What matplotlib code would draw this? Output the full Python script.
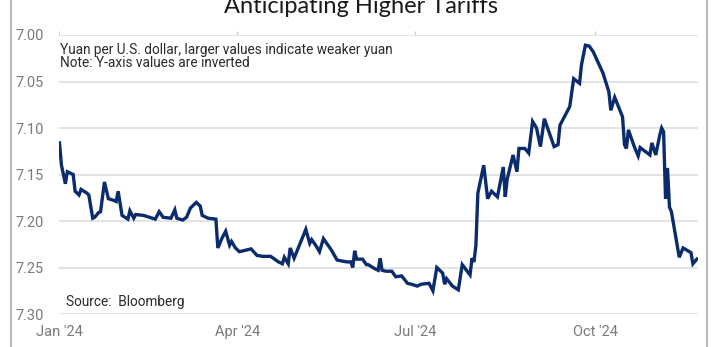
"""Yuan per USD, 2024 - inverted axis line chart"""
import numpy as np
import pandas as pd
import matplotlib
matplotlib.use("Agg")
import matplotlib.pyplot as plt
from matplotlib.lines import Line2D

# days since 2024-01-01
days = [0, 1, 3, 4, 5, 7, 8, 10, 11, 14, 15, 17, 18, 20, 21, 23, 25, 28, 29, 30,
        32, 35, 36, 38, 39, 43, 49, 51, 53, 57, 59, 60, 63, 65, 67, 70, 72, 73, 76, 80,
        81, 83, 85, 87, 88, 90, 92, 98, 101, 104, 108, 112, 114, 115, 117, 118, 120, 126, 128, 129,
        131, 133, 135, 139, 142, 147, 149, 150, 151, 152, 155, 157, 158, 161, 163, 164, 165, 167, 170, 172,
        175, 178, 180, 183, 185, 189, 191, 193, 196, 197, 198, 201, 204, 206, 210, 211, 212, 213, 214, 217,
        219, 221, 224, 227, 228, 229, 232, 234, 235, 238, 240, 242, 244, 246, 248, 253, 255, 256, 261, 263,
        266, 267, 269, 271, 273, 278, 281, 282, 284, 288, 289, 290, 291, 293, 294, 296, 297, 302, 303, 305,
        307, 308, 309, 310, 311, 312, 313, 317, 319, 323, 324, 326]
cny = [7.116, 7.140, 7.160, 7.147, 7.148, 7.150, 7.168, 7.172, 7.166, 7.170, 7.172, 7.197, 7.196, 7.191, 7.190, 7.158, 7.176, 7.178, 7.179, 7.168,
       7.194, 7.198, 7.189, 7.197, 7.193, 7.194, 7.198, 7.190, 7.196, 7.197, 7.188, 7.197, 7.199, 7.196, 7.186, 7.180, 7.184, 7.194, 7.197, 7.198,
       7.229, 7.219, 7.211, 7.226, 7.222, 7.229, 7.233, 7.230, 7.237, 7.238, 7.238, 7.244, 7.246, 7.239, 7.246, 7.229, 7.240, 7.209, 7.224, 7.220,
       7.226, 7.233, 7.219, 7.231, 7.242, 7.244, 7.244, 7.250, 7.232, 7.241, 7.241, 7.247, 7.247, 7.251, 7.253, 7.240, 7.253, 7.254, 7.254, 7.260,
       7.259, 7.267, 7.268, 7.270, 7.268, 7.267, 7.275, 7.250, 7.256, 7.268, 7.262, 7.270, 7.274, 7.247, 7.258, 7.240, 7.244, 7.226, 7.170, 7.140,
       7.176, 7.168, 7.174, 7.142, 7.174, 7.155, 7.129, 7.147, 7.122, 7.122, 7.127, 7.093, 7.100, 7.120, 7.090, 7.120, 7.118, 7.097, 7.077, 7.047,
       7.052, 7.032, 7.011, 7.012, 7.018, 7.041, 7.061, 7.081, 7.067, 7.088, 7.118, 7.122, 7.102, 7.114, 7.120, 7.130, 7.121, 7.129, 7.116, 7.129,
       7.108, 7.100, 7.104, 7.176, 7.143, 7.185, 7.190, 7.239, 7.229, 7.234, 7.246, 7.241]

y_ticks = [7.00, 7.05, 7.10, 7.15, 7.20, 7.25, 7.30]
x_tick_dates = ["2024-01-01", "2024-04-01", "2024-07-01", "2024-10-01"]
x_tick_labels = ["Jan '24", "Apr '24", "Jul '24", "Oct '24"]

start = pd.Timestamp("2024-01-01")
dates = start + pd.to_timedelta(days, unit="D")

narrow = ["Liberation Sans Narrow", "Roboto", "DejaVu Sans"]
W, H = 712, 347
fig = plt.figure(figsize=(W / 100, H / 100), dpi=100)
ax = fig.add_axes([59 / W, 1 - 314 / H, (698 - 59) / W, (314 - 35) / H])

ax.plot(dates, cny, color="#0a2c6c", linewidth=2.4, solid_joinstyle="miter", zorder=3)

ax.set_ylim(7.30, 7.00)
ax.set_xlim(start - pd.Timedelta(hours=6), start + pd.Timedelta(days=326.6))
ax.set_yticks(y_ticks)
ax.set_yticklabels([f"{v:.2f}" for v in y_ticks], family=narrow, fontsize=10.5, color="#7a7a7a")
ax.set_xticks(pd.to_datetime(x_tick_dates))
ax.set_xticklabels(x_tick_labels, family=narrow, fontsize=10.5, color="#7a7a7a")

ax.grid(axis="y", color="#e3e3e3", linewidth=1.4)
ax.grid(axis="x", visible=False)
for s in ax.spines.values():
    s.set_visible(False)
ax.tick_params(axis="y", length=0, pad=11)
ax.tick_params(axis="x", bottom=False, top=True, labelbottom=True, labeltop=False,
               length=3, color="#cccccc", pad=5)

ax.text(0.002, 0.946, "Yuan per U.S. dollar, larger values indicate weaker yuan",
        transform=ax.transAxes, family=narrow, fontsize=9.8, color="#2b2b2b", va="center")
ax.text(0.002, 0.899, "Note: Y-axis values are inverted",
        transform=ax.transAxes, family=narrow, fontsize=9.8, color="#2b2b2b", va="center")
ax.text(0.011, 0.044, "Source:  Bloomberg",
        transform=ax.transAxes, family=narrow, fontsize=9.8, color="#2b2b2b", va="center")

fig.text(361 / W, 1 - 12.7 / H, "Anticipating Higher Tariffs", ha="center", va="baseline",
         family=["Lato", "DejaVu Sans"], fontsize=17, color="#1a1a1a")

# frame lines at left and right
fig.add_artist(Line2D([11 / W, 11 / W], [0, 1], color="#aaaaaa", linewidth=1.2))
fig.add_artist(Line2D([707 / W, 707 / W], [0, 1], color="#aaaaaa", linewidth=1.2))

fig.savefig("out.png", dpi=100)
